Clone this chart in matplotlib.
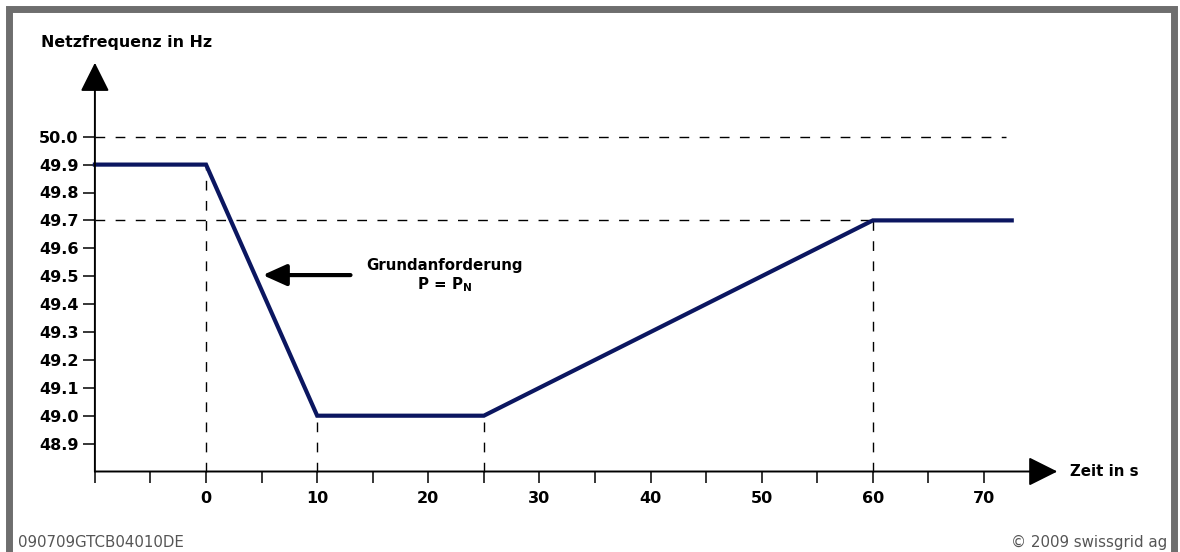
import matplotlib
matplotlib.use("Agg")
import matplotlib.pyplot as plt
from matplotlib.patches import Rectangle, FancyArrowPatch

# frequency response data
time_s = [-10, 0, 10, 25, 60, 72.5]
freq_hz = [49.9, 49.9, 49.0, 49.0, 49.7, 49.7]

x_ticks = [-10, -5, 0, 5, 10, 15, 20, 25, 30, 35, 40, 45, 50, 55, 60, 65, 70]
x_labels = ["" if t < 0 or t % 10 else str(t) for t in x_ticks]
y_ticks = [48.9, 49.0, 49.1, 49.2, 49.3, 49.4, 49.5, 49.6, 49.7, 49.8, 49.9, 50.0]
y_labels = ["%.1f" % v for v in y_ticks]

# dashed guides: (x0, x1, y0, y1)
guides = [(-10, 72, 50.0, 50.0), (-10, 60, 49.7, 49.7),
          (0, 0, 48.8, 49.9), (10, 10, 48.8, 49.0),
          (25, 25, 48.8, 49.0), (60, 60, 48.8, 49.7)]

plt.rcParams['font.family'] = ['DejaVu Sans']
plt.rcParams['mathtext.fontset'] = 'dejavusans'

W, H = 1180, 552
fig = plt.figure(figsize=(11.8, 5.52), dpi=100)
fig.patch.set_facecolor("white")

# axes placed so that -10s sits at x=95px and 48.8 Hz at y=471px
x0px, x1px = 94.9, 1095.1
ytop_px, ybot_px = 53.0, 471.5
ax = fig.add_axes([x0px / W, (H - ybot_px) / H, (x1px - x0px) / W, (ybot_px - ytop_px) / H])
ax.set_xlim(-10, 80)
ax.set_ylim(48.8, 50.3)
for s in ax.spines.values():
    s.set_visible(False)
ax.patch.set_alpha(0)

ax.set_xticks(x_ticks)
ax.set_xticklabels(x_labels, fontsize=11.5, fontweight='bold')
ax.set_yticks(y_ticks)
ax.set_yticklabels(y_labels, fontsize=11.5, fontweight='bold')
ax.tick_params(axis='x', length=8, width=1.1, pad=6, color='black')
ax.tick_params(axis='y', length=8.6, width=1.1, pad=3, color='black')

for gx0, gx1, gy0, gy1 in guides:
    ax.plot([gx0, gx1], [gy0, gy1], color='black', lw=1, linestyle=(0, (7, 7.5)),
            zorder=1, clip_on=False)

ax.plot(time_s, freq_hz, color='#0b1660', lw=3, solid_joinstyle='miter', zorder=3,
        clip_on=False)

# axis lines with arrow heads
ax.add_patch(FancyArrowPatch((-10, 48.8), (-10, 50.265), arrowstyle='-|>,head_length=0.4,head_width=0.2',
                             mutation_scale=45, lw=1.4, color='black', shrinkA=0, shrinkB=0,
                             clip_on=False, zorder=4))
ax.add_patch(FancyArrowPatch((-10, 48.8), (76.6, 48.8), arrowstyle='-|>,head_length=0.4,head_width=0.2',
                             mutation_scale=45, lw=1.4, color='black', shrinkA=0, shrinkB=0,
                             clip_on=False, zorder=4))

# annotation arrow
ax.add_patch(FancyArrowPatch((13.0, 49.504), (5.1, 49.504), arrowstyle='-|>,head_length=0.4,head_width=0.18',
                             mutation_scale=36, lw=3, color='black', shrinkA=0, shrinkB=0,
                             zorder=4))
ax.text(21.5, 49.54, "Grundanforderung", fontsize=10.8, fontweight='bold', ha='center', va='center')
ax.text(21.5, 49.468, r"P = P$_\mathbf{N}$", fontsize=10.8, fontweight='bold', ha='center', va='center')

ax.text(77.7, 48.8, "Zeit in s", fontsize=10.8, fontweight='bold', ha='left', va='center')
fig.text(41 / W, 1 - 43 / H, "Netzfrequenz in Hz", fontsize=11.4, fontweight='bold',
         ha='left', va='center')

# footer
fig.text(18 / W, 1 - 547 / H, "090709GTCB04010DE", fontsize=10.8, color='#555555',
         ha='left', va='baseline')
fig.text(1167 / W, 1 - 547 / H, "\u00a9 2009 swissgrid ag", fontsize=10.8, color='#555555',
         ha='right', va='baseline')

# grey frame around the whole graphic
fig.patches.append(Rectangle((8.5 / W, -1.5 / H), (1173.5 - 8.5) / W, (553.5 - 8.5) / H,
                             transform=fig.transFigure, fill=False, edgecolor='#6e6e6e',
                             lw=5, zorder=10))

fig.savefig("out.png", dpi=100)
